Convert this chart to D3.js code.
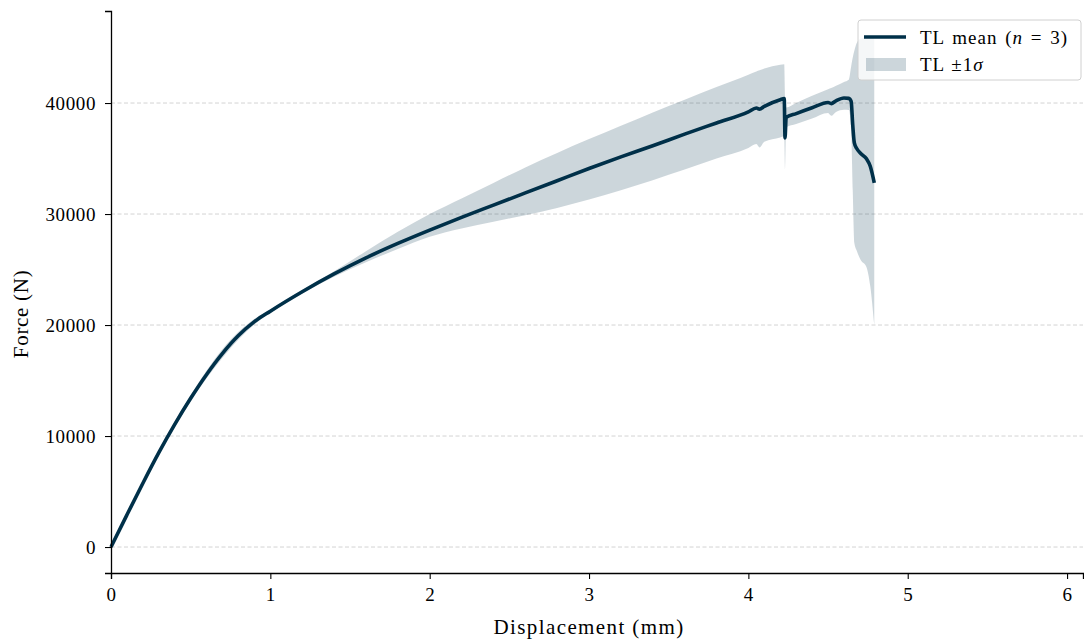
<!DOCTYPE html>
<html>
<head>
<meta charset="utf-8">
<script src="https://cdn.jsdelivr.net/npm/d3@7"></script>
<style>
  body { margin: 0; background: #fff; }
  text { font-family: "Liberation Serif", "DejaVu Serif", serif; fill: #000; }
</style>
</head>
<body>
<script>
// displacement (mm) and force (N)
var disp = [0, 0.1, 0.2, 0.3, 0.4, 0.5, 0.6, 0.7, 0.8, 0.9, 1.0, 1.2, 1.4, 1.6, 1.8, 2.0, 2.2, 2.4, 2.6, 2.8,
  3.0, 3.2, 3.4, 3.6, 3.8, 4.0, 4.05, 4.07, 4.1, 4.2, 4.225, 4.23, 4.237, 4.3, 4.4, 4.5, 4.52, 4.55, 4.6,
  4.63, 4.645, 4.655, 4.665, 4.68, 4.705, 4.74, 4.765, 4.79];
var meanForce = [0, 2900, 5750, 8500, 11050, 13400, 15550, 17450, 19050, 20300, 21250, 23000, 24600, 26050, 27350,
  28550, 29700, 30800, 31900, 33000, 34100, 35150, 36150, 37200, 38200, 39200, 39550, 39450, 39700, 40300, 40400,
  36850, 38700, 39050, 39570, 40050, 39950, 40200, 40450, 40420, 40150, 38000, 36400, 35900, 35450, 35000, 34300, 32800];
var lowerForce = [0, 2800, 5600, 8300, 10800, 13100, 15200, 17050, 18700, 20050, 21100, 22850, 24350, 25650, 26850,
  27950, 28700, 29300, 29900, 30550, 31300, 32150, 33050, 34000, 35000, 35950, 36300, 36000, 36500, 36900, 37000,
  34000, 37800, 38100, 38600, 39100, 38850, 39200, 39400, 39370, 37500, 32100, 27400, 26700, 25850, 25250, 23500, 20000];
var upperForce = [0, 3000, 5900, 8700, 11300, 13700, 15900, 17850, 19400, 20550, 21400, 23150, 24850, 26650, 28400,
  30000, 31400, 32800, 34200, 35500, 36750, 37950, 39150, 40300, 41450, 42550, 42850, 42950, 43100, 43450, 43500,
  40500, 39600, 40000, 40650, 41250, 41350, 41550, 41900, 42100, 43300, 44100, 44700, 45400, 45800, 45900, 45900, 45900];

var xTicks = [0, 1, 2, 3, 4, 5, 6];
var yTicks = [0, 10000, 20000, 30000, 40000];

var data = disp.map(function(d, i) {
  return {x: d, m: meanForce[i], lo: lowerForce[i], hi: upperForce[i]};
});

var width = 1084, height = 641;
var color = "#003049";

var svg = d3.select("body").append("svg")
  .attr("width", width)
  .attr("height", height);

var x = d3.scaleLinear().domain([0, 6.1]).range([111, 1083]);
var y = d3.scaleLinear().domain([-2340, 48290]).range([573, 11]);

// grid
svg.append("g").selectAll("line")
  .data(yTicks)
  .enter().append("line")
  .attr("x1", 111).attr("x2", 1083)
  .attr("y1", function(d) { return y(d); })
  .attr("y2", function(d) { return y(d); })
  .attr("stroke", "#c8c8c8")
  .attr("stroke-width", 0.8)
  .attr("stroke-dasharray", "4,2.5");

// +-1 sigma band
var area = d3.area()
  .curve(d3.curveMonotoneX)
  .x(function(d) { return x(d.x); })
  .y0(function(d) { return y(d.lo); })
  .y1(function(d) { return y(d.hi); });

svg.append("path")
  .datum(data)
  .attr("d", area)
  .attr("fill", color)
  .attr("fill-opacity", 0.2);

// mean curve
var line = d3.line()
  .curve(d3.curveMonotoneX)
  .x(function(d) { return x(d.x); })
  .y(function(d) { return y(d.m); });

svg.append("path")
  .datum(data)
  .attr("d", line)
  .attr("fill", "none")
  .attr("stroke", color)
  .attr("stroke-width", 3.6)
  .attr("stroke-linejoin", "round");

// axes
var xAxis = svg.append("g")
  .attr("transform", "translate(0," + 573 + ")")
  .call(d3.axisBottom(x).tickValues(xTicks).tickSize(6).tickPadding(9).tickFormat(d3.format("d")));
var yAxis = svg.append("g")
  .attr("transform", "translate(" + 111 + ",0)")
  .call(d3.axisLeft(y).tickValues(yTicks).tickSize(6).tickPadding(9).tickFormat(d3.format("d")));

[xAxis, yAxis].forEach(function(a) {
  a.select(".domain").attr("stroke", "#000").attr("stroke-width", 1.3);
  a.selectAll(".tick line").attr("stroke", "#000").attr("stroke-width", 1.1);
  a.selectAll(".tick text")
    .style("font-family", "'Liberation Serif', 'DejaVu Serif', serif")
    .style("font-size", "19px")
    .style("letter-spacing", "0.6px")
    .attr("fill", "#000");
});

svg.append("text")
  .attr("x", x(3))
  .attr("y", 634)
  .attr("text-anchor", "middle")
  .style("font-size", "21px")
  .style("letter-spacing", "1.4px")
  .text("Displacement (mm)");

svg.append("text")
  .attr("transform", "translate(28," + y(21000) + ") rotate(-90)")
  .attr("text-anchor", "middle")
  .style("font-size", "21px")
  .style("letter-spacing", "0.7px")
  .text("Force (N)");

// legend
var lg = svg.append("g").attr("transform", "translate(858,20)");
lg.append("rect")
  .attr("width", 223).attr("height", 60)
  .attr("rx", 3)
  .attr("fill", "#fff").attr("fill-opacity", 0.8)
  .attr("stroke", "#d0d0d0").attr("stroke-width", 1);
lg.append("line")
  .attr("x1", 6).attr("x2", 48).attr("y1", 17).attr("y2", 17)
  .attr("stroke", color).attr("stroke-width", 3.6);
lg.append("rect")
  .attr("x", 8).attr("y", 38).attr("width", 40).attr("height", 13)
  .attr("fill", color).attr("fill-opacity", 0.2);

var t1 = lg.append("text").attr("x", 62).attr("y", 24)
  .style("font-size", "19px").style("letter-spacing", "1px").style("word-spacing", "2px");
t1.append("tspan").text("TL mean (");
t1.append("tspan").style("font-style", "italic").text("n");
t1.append("tspan").text(" = 3)");

var t2 = lg.append("text").attr("x", 62).attr("y", 51)
  .style("font-size", "19px").style("letter-spacing", "1px");
t2.append("tspan").text("TL");
t2.append("tspan").attr("dx", 6).text("\u00b11");
t2.append("tspan").style("font-style", "italic").text("\u03c3");
</script>
</body>
</html>
